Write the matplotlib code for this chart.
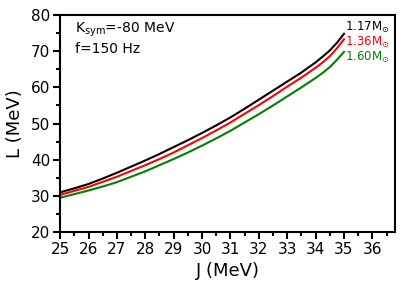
import matplotlib
matplotlib.use('Agg')
import matplotlib.pyplot as plt
from matplotlib.ticker import MultipleLocator

J = [25, 25.5, 26, 26.5, 27, 27.5, 28, 28.5, 29, 29.5, 30, 30.5, 31, 31.5,
     32, 32.5, 33, 33.5, 34, 34.25, 34.5, 34.75, 35]
L_117 = [31.0, 32.1, 33.3, 34.8, 36.4, 38.1, 39.8, 41.6, 43.5, 45.4, 47.4, 49.5,
         51.7, 54.1, 56.6, 59.1, 61.6, 64.1, 66.9, 68.5, 70.2, 72.3, 74.8]
L_136 = [30.3, 31.4, 32.5, 33.9, 35.3, 36.9, 38.5, 40.2, 42.0, 44.0, 46.0, 48.1,
         50.3, 52.7, 55.1, 57.6, 60.2, 62.7, 65.4, 66.9, 68.6, 70.8, 73.3]
L_160 = [29.5, 30.5, 31.5, 32.6, 33.8, 35.3, 36.8, 38.5, 40.2, 42.0, 43.9, 45.9,
         48.0, 50.3, 52.6, 55.0, 57.5, 60.0, 62.6, 64.0, 65.6, 67.6, 69.8]

masses = ['1.17', '1.36', '1.60']
colors = ['black', 'red', 'green']
label_y = [76.6, 72.3, 68.2]

fig = plt.figure(figsize=(4.09, 2.88), dpi=100)
ax = fig.add_axes([0.147, 0.194, 0.819, 0.754])

for L, m, c, ly in zip([L_117, L_136, L_160], masses, colors, label_y):
    ax.plot(J, L, color=c, lw=1.5)
    ax.text(J[-1] + 0.02, ly, m + r'M$_{\odot}$', color=c,
            fontsize=8.5, va='center', ha='left')

ax.set_xlim(25, 36.8)
ax.set_ylim(20, 80)
ax.xaxis.set_major_locator(MultipleLocator(1))
ax.xaxis.set_minor_locator(MultipleLocator(0.5))
ax.yaxis.set_major_locator(MultipleLocator(10))
ax.yaxis.set_minor_locator(MultipleLocator(5))
ax.tick_params(which='major', length=5, width=1.5, labelsize=11, pad=2)
ax.tick_params(which='minor', length=3, width=1.5)
for s in ax.spines.values():
    s.set_linewidth(1.5)

ax.set_xlabel('J (MeV)', fontsize=13, labelpad=4)
ax.set_ylabel('L (MeV)', fontsize=13, labelpad=5)

ax.text(0.045, 0.93, r'K$_{\rm sym}$=-80 MeV', transform=ax.transAxes, fontsize=10, va='center')
ax.text(0.045, 0.845, 'f=150 Hz', transform=ax.transAxes, fontsize=10, va='center')

fig.savefig('out.png', dpi=100)
